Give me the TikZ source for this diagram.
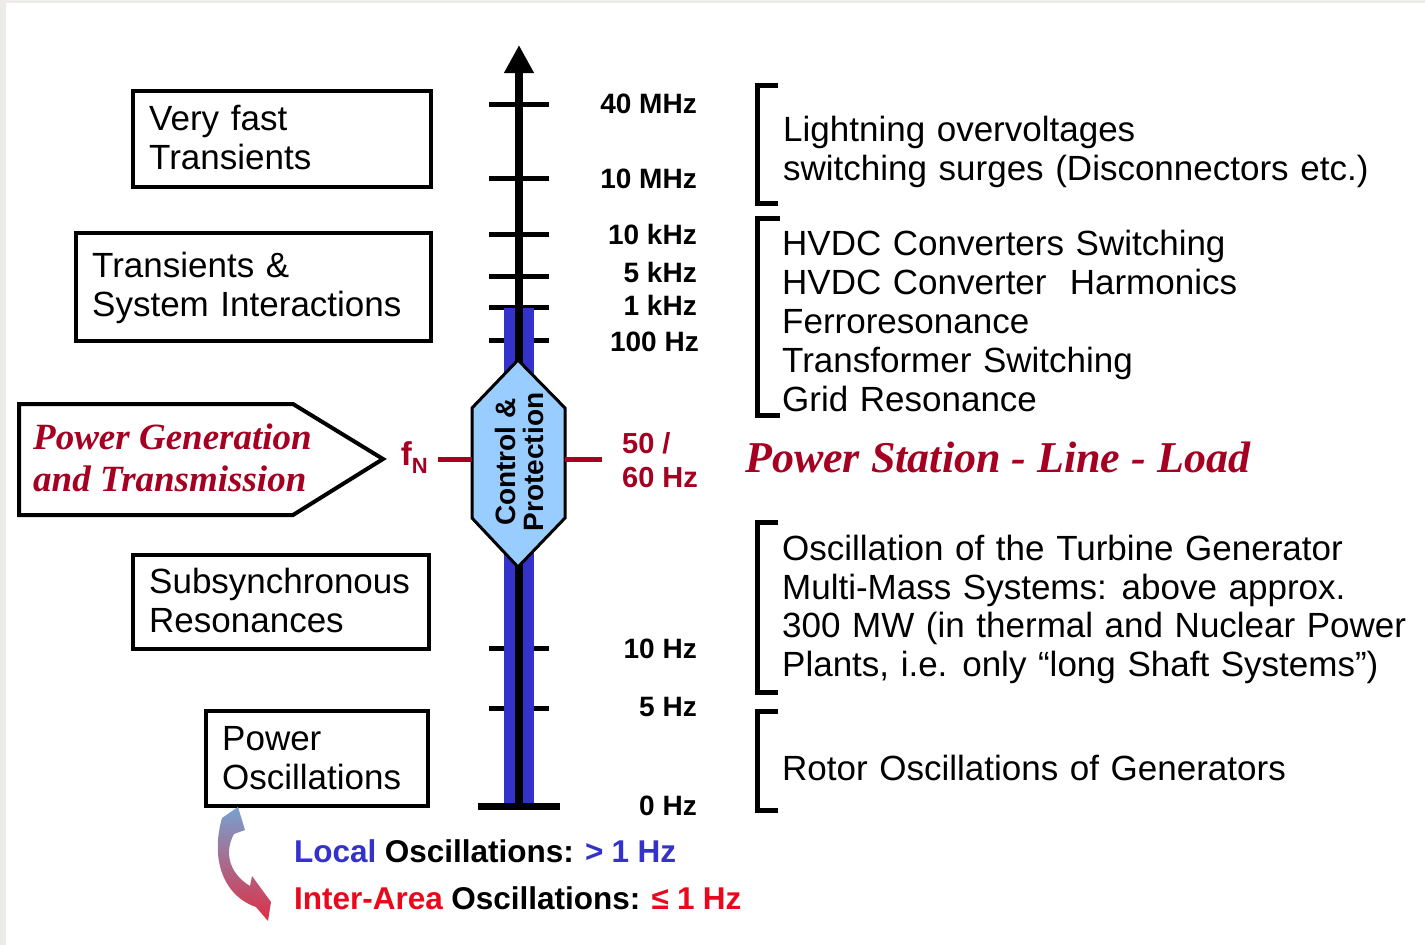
\documentclass[tikz,border=0pt]{standalone}
\usepackage{fontspec}
\setmainfont{Liberation Sans}
\newfontfamily\tnr{Liberation Serif}
\usetikzlibrary{arrows.meta}
\definecolor{bandblue}{RGB}{51,51,204}
\definecolor{hexblue}{RGB}{153,204,255}
\definecolor{dred}{RGB}{165,0,33}
\definecolor{bred}{RGB}{232,10,28}
\definecolor{framegray}{RGB}{236,235,231}
\definecolor{arrtop}{RGB}{118,162,208}
\definecolor{arrbot}{RGB}{222,48,70}
\newcommand\lblfont{\fontsize{35}{39}\selectfont\spaceskip 11.6pt\relax}
\newcommand\btmfont{\bfseries\fontsize{31.5}{31.5}\selectfont\spaceskip 8.3pt\relax}
\begin{document}
\begin{tikzpicture}[x=1pt,y=-1pt,
  lbl/.style={inner sep=0pt, anchor=base west, font=\lblfont},
  axl/.style={inner sep=0pt, anchor=base east, font=\fontsize{28}{28}\selectfont\bfseries},
  boxnode/.style={draw, line width=4pt, inner sep=0pt},
  brk/.style={line width=5pt, line cap=butt, line join=miter},
  tickline/.style={line width=5pt},
  serifred/.style={inner sep=0pt, anchor=base west, text=dred},
  redlink/.style={dred, line width=5pt},
  bottomtxt/.style={inner sep=0pt, anchor=base west, font=\btmfont}
  ]
\useasboundingbox (0,0) rectangle (1425,945);
\fill[framegray] (0,0) rectangle (1425,945);
\fill[white] (6,3) rectangle (1425,945);

% ---- left boxes ----
\node[boxnode, minimum width=298pt, minimum height=96pt] (b1) at (282,139) {};
\node[boxnode, minimum width=355pt, minimum height=108pt] (b2) at (253.5,287) {};
\node[boxnode, minimum width=296pt, minimum height=94pt] (b4) at (281,602) {};
\node[boxnode, minimum width=222pt, minimum height=95pt] (b5) at (317,758.5) {};
\draw[line width=4pt, line join=miter] (19,404) -- (293,404) -- (383,459) -- (293,515) -- (19,515) -- cycle;

\node[lbl] (t1a) at (149,130) {Very fast};
\node[lbl] (t1b) at (149,169) {Transients};
\node[lbl] (t2a) at (92,277) {Transients \&};
\node[lbl] (t2b) at (92,316) {System Interactions};
\node[lbl] (t4a) at (149,593) {Subsynchronous};
\node[lbl] (t4b) at (149,632) {Resonances};
\node[lbl] (t5a) at (222,750) {Power};
\node[lbl] (t5b) at (222,789) {Oscillations};

\node[serifred, font={\tnr\bfseries\itshape\fontsize{37}{42}\selectfont}] (pg1) at (33,449) {Power Generation};
\node[serifred, font={\tnr\bfseries\itshape\fontsize{37}{42}\selectfont}] (pg2) at (33,491) {and Transmission};

% ---- axis ----
\foreach \yy in {104,178,234,276,307,340,648,708}
  \draw[tickline] (489,\yy) -- (549,\yy);
\fill[bandblue] (504,308) rectangle (534,806);
\draw[line width=8pt, -{Triangle[width=28pt,length=28pt]}] (519,806) -- (519,45);
\draw[line width=7pt] (478,806) -- (560,806);

% hexagon
\coordinate (hexL) at (472,459);
\coordinate (hexR) at (565,459);
\draw[line width=3pt, fill=hexblue, line join=miter] (518,360) -- (565,408) -- (565,518) -- (518,567) -- (472,518) -- (472,408) -- cycle;
\node[rotate=90, align=center, inner sep=0pt, font=\fontsize{28}{28}\selectfont\bfseries] (cp) at (519,462) {Control \&\\Protection};

\node[inner sep=0pt, anchor=base east, text=dred, font=\bfseries\fontsize{33}{33}\selectfont] (fn) at (428,465) {f\raisebox{-8pt}{\fontsize{22}{22}\selectfont N}};
\coordinate (fnend) at (438,459);
\coordinate (hzend) at (602,459);
\draw[redlink] (fnend) -- (hexL);
\draw[redlink] (hexR) -- (hzend);
\node[inner sep=0pt, anchor=base west, text=dred, font=\bfseries\fontsize{29}{29}\selectfont] (hz1) at (622,453) {50 /};
\node[inner sep=0pt, anchor=base west, text=dred, font=\bfseries\fontsize{29}{29}\selectfont] (hz2) at (622,487) {60 Hz};

% axis labels
\node[axl] (a1) at (697,113) {40 MHz};
\node[axl] (a2) at (697,188) {10 MHz};
\node[axl] (a3) at (697,244) {10 kHz};
\node[axl] (a4) at (697,282) {5 kHz};
\node[axl] (a5) at (697,315) {1 kHz};
\node[axl] (a6) at (699,351) {100 Hz};
\node[axl] (a7) at (697,658) {10 Hz};
\node[axl] (a8) at (697,716) {5 Hz};
\node[axl] (a9) at (697,815) {0 Hz};

% ---- brackets ----
\draw[brk] (778,85) -- (757,85) -- (757,203) -- (778,203);
\draw[brk] (780,218) -- (757,218) -- (757,415) -- (780,415);
\draw[brk] (778,522) -- (757,522) -- (757,692) -- (778,692);
\draw[brk] (778,711) -- (757,711) -- (757,810) -- (778,810);

\node[lbl] (r1a) at (783,141) {Lightning overvoltages};
\node[lbl] (r1b) at (783,180) {switching surges (Disconnectors etc.)};
\node[lbl] (r2a) at (782,255) {HVDC Converters Switching};
\node[lbl] (r2b) at (782,294) {HVDC Converter\ \ Harmonics};
\node[lbl] (r2c) at (782,333) {Ferroresonance};
\node[lbl] (r2d) at (782,372) {Transformer Switching};
\node[lbl] (r2e) at (782,411) {Grid Resonance};
\node[serifred, font={\tnr\bfseries\itshape\fontsize{44}{48}\selectfont}] (psl) at (745,472) {Power Station - Line - Load};
\node[lbl] (r3a) at (782,560) {Oscillation of the Turbine Generator};
\node[lbl] (r3b) at (782,599) {Multi-Mass Systems: above approx.};
\node[lbl] (r3c) at (782,637) {300 MW (in thermal and Nuclear Power};
\node[lbl] (r3d) at (782,676) {Plants, i.e. only “long Shaft Systems”)};
\node[lbl] (r4a) at (782,780) {Rotor Oscillations\ of Generators};

% ---- bottom ----
\shade[top color=arrtop, bottom color=arrbot]
  (238,807) -- (245,830) -- (234,834) .. controls (225,850) and (227,872) .. (250,886)
  -- (252,876) -- (271,902) -- (268,921) -- (256,907)
  .. controls (224,896) and (210,860) .. (222,818) -- cycle;
\node[bottomtxt] (loc) at (294,862) {\textcolor{bandblue}{Local} Oscillations: \textcolor{bandblue}{> 1 Hz}};
\node[bottomtxt] (ia) at (294,909) {\textcolor{bred}{Inter-Area} Oscillations: \textcolor{bred}{≤ 1 Hz}};
\end{tikzpicture}
\end{document}
